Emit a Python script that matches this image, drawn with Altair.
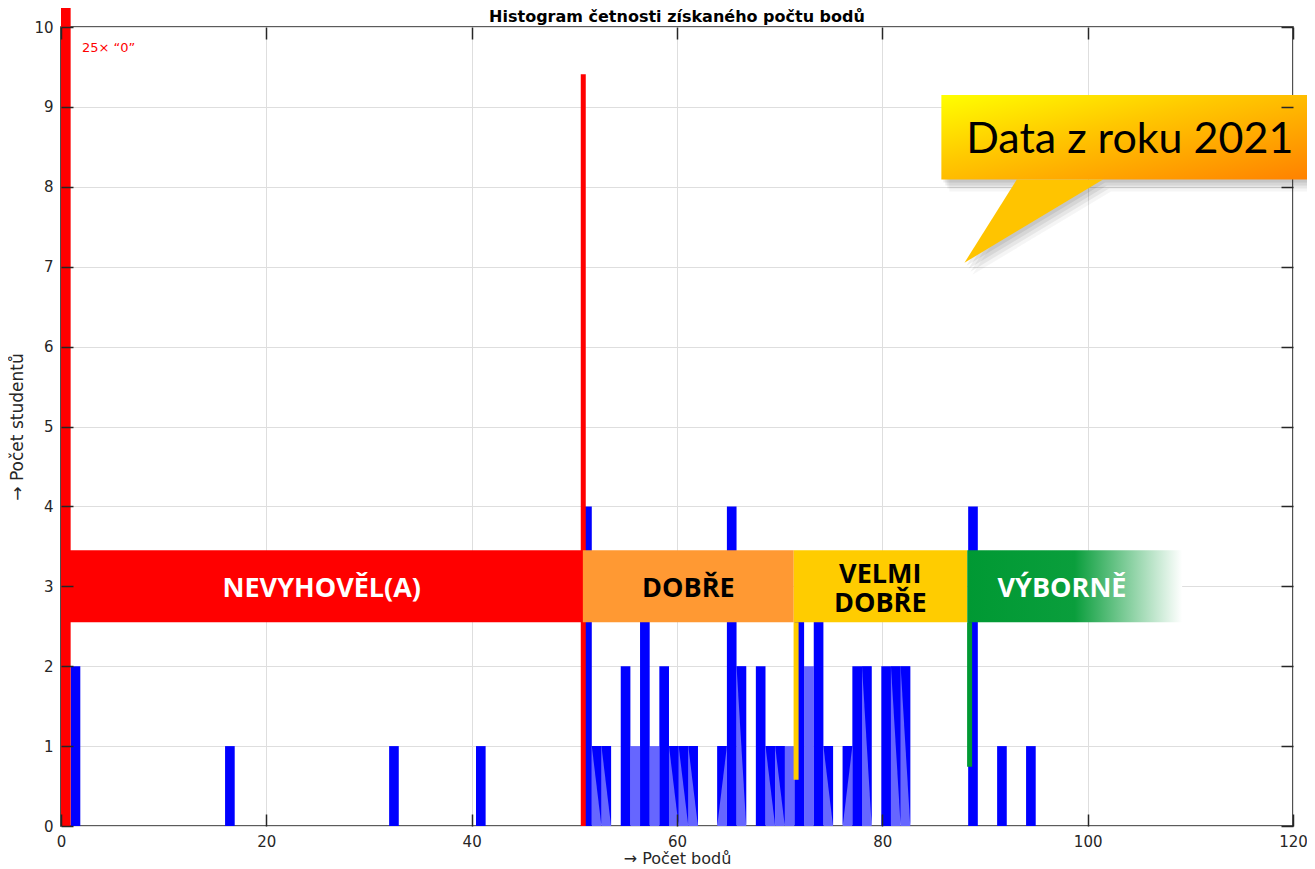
import altair as alt
import pandas as pd

# ---------------- data ----------------
bin_width = 0.94
bin_left = [0.94, 15.98, 31.96, 40.42, 50.76, 51.70, 52.64, 54.52, 55.46, 56.40,
            57.34, 58.28, 59.22, 60.16, 61.10, 63.92, 64.86, 65.80, 67.68, 68.62,
            69.56, 70.50, 71.44, 72.38, 73.32, 74.26, 76.14, 77.08, 78.02, 79.90,
            80.84, 81.78, 88.36, 91.18, 94.00]
bin_count = [2, 1, 1, 1, 4, 1, 1, 2, 1, 3,
             1, 2, 1, 1, 1, 1, 4, 2, 2, 1,
             1, 1, 3, 2, 3, 1, 1, 2, 2, 2,
             2, 2, 4, 1, 1]
bin_style = ["full", "full", "full", "full", "full", "tri_r", "tri_r", "full", "light", "full",
             "light", "full", "tri_r", "tri_r", "tri_r", "tri_l", "full", "tri_r", "full", "tri_r",
             "tri_r", "light", "full", "light", "full", "tri_r", "tri_l", "full", "tri_r", "full",
             "tri_r", "tri_r", "full", "full", "full"]

zero_left = [0.0]
zero_count = [25]
zero_note = ["25× “0”"]

band_names = ["NEVYHOVĚL(A)", "DOBŘE", "VELMI\nDOBŘE", "VÝBORNĚ"]
band_lines = [1, 1, 2, 1]
band_start = [0.0, 50.83, 71.37, 88.27]
band_end = [50.83, 71.37, 88.27, 109.2]
band_label_x = [25.4, 61.1, 79.8, 97.5]
band_colors = ["#FF0000", "#FF9933", "#FFCC00", "#009933"]
band_text_colors = ["#FFFFFF", "#000000", "#000000", "#FFFFFF"]
band_low = 2.55
band_high = 3.45
band_mid = 3.0

marker_x = [50.87, 71.6, 88.5]
marker_y0 = [0.0, 0.58, 0.74]
marker_y1 = [9.41, 2.55, 2.55]
marker_colors = ["#FF0000", "#FFCC00", "#009933"]

callout_text = ["Data z roku 2021"]
callout_box_x = [85.75, 122.1]
callout_box_y = [8.09, 9.15]
callout_tail_y = [7.05, 8.09]
callout_tail_xa = [88.0, 93.1]
callout_tail_xb = [88.0, 101.5]
callout_text_pos = [104.1, 8.42]

chart_title = ["Histogram četnosti získaného počtu bodů"]
x_title = "→ Počet bodů"
y_title = "→ Počet studentů"
x_ticks = [0, 20, 40, 60, 80, 100, 120]
y_ticks = [0, 1, 2, 3, 4, 5, 6, 7, 8, 9, 10]

# ---------------- tables ----------------
bars = pd.DataFrame({"left": bin_left, "count": bin_count, "style": bin_style})
bars["right"] = bars["left"] + bin_width

tri_rows = []
for i, (l, c, s) in enumerate(zip(bin_left, bin_count, bin_style)):
    if s == "tri_r":
        tri_rows += [dict(id=i, xx=l, ytop=c, ybot=c), dict(id=i, xx=l + bin_width, ytop=c, ybot=0)]
    elif s == "tri_l":
        tri_rows += [dict(id=i, xx=l, ytop=c, ybot=0), dict(id=i, xx=l + bin_width, ytop=c, ybot=c)]
tris = pd.DataFrame(tri_rows)

zero = pd.DataFrame({"left": zero_left, "count": zero_count, "note": zero_note})
zero["right"] = zero["left"] + bin_width

bands = pd.DataFrame({"name": band_names, "lines": band_lines, "x0": band_start, "x1": band_end,
                      "lx": band_label_x, "col": band_colors, "tcol": band_text_colors})
bands["y0"] = band_low
bands["y1"] = band_high
bands["ym"] = band_mid

markers = pd.DataFrame({"x": marker_x, "y0": marker_y0, "y1": marker_y1, "col": marker_colors})

box = pd.DataFrame({"x0": [callout_box_x[0]], "x1": [callout_box_x[1]],
                    "y0": [callout_box_y[0]], "y1": [callout_box_y[1]]})
tail = pd.DataFrame({"yy": callout_tail_y, "xa": callout_tail_xa, "xb": callout_tail_xb})
ctext = pd.DataFrame({"t": callout_text, "x": [callout_text_pos[0]], "y": [callout_text_pos[1]]})
ttext = pd.DataFrame({"t": chart_title})

W, H = 1232, 799
xs = alt.Scale(domain=[0, 120], nice=False, zero=False)
ys = alt.Scale(domain=[0, 10], nice=False, zero=False)
AX = "#262626"
FONT = "DejaVu Sans"


def X(f, **kw):
    return alt.X(f, type="quantitative", scale=xs, axis=None, **kw)


def Y(f, **kw):
    return alt.Y(f, type="quantitative", scale=ys, axis=None, **kw)


main_x_axis = alt.Axis(values=x_ticks, grid=True, gridColor="#DEDEDE", gridWidth=1,
                       ticks=False, domain=False, labelFont=FONT, labelFontSize=15,
                       labelColor=AX, labelPadding=8, labelFlush=False,
                       title=x_title, titleFont=FONT, titleFontSize=16,
                       titleFontWeight="normal", titleColor=AX, titlePadding=1)
main_y_axis = alt.Axis(values=y_ticks, grid=True, gridColor="#DEDEDE", gridWidth=1,
                       ticks=False, domain=False, labelFont=FONT, labelFontSize=15,
                       labelColor=AX, labelPadding=8, labelFlush=False,
                       title=y_title, titleFont=FONT, titleFontSize=17,
                       titleFontWeight="normal", titleColor=AX, titlePadding=7)

# light blue fill under triangle / light bins
light = alt.Chart(bars).transform_filter("datum.style != 'full'").mark_rect(color="#6666FF").encode(
    x=alt.X("left:Q", scale=xs, axis=main_x_axis), x2="right:Q",
    y=alt.Y("count:Q", scale=ys, axis=main_y_axis), y2=alt.datum(0))

dark = alt.Chart(bars).transform_filter("datum.style == 'full'").mark_rect(color="#0000FF").encode(
    x=X("left:Q"), x2="right:Q", y=Y("count:Q"), y2=alt.datum(0))

tri = alt.Chart(tris).mark_area(color="#0000FF", orient="vertical").encode(
    x=X("xx:Q"), y=Y("ytop:Q"), y2="ybot:Q", detail="id:N")

zero_bar = alt.Chart(zero).mark_rect(color="#FF0000", clip=False).encode(
    x=X("left:Q"), x2="right:Q", y=Y("count:Q"), y2=alt.datum(0))

zero_lbl = alt.Chart(zero).mark_text(color="#FF0000", font=FONT, fontSize=13, align="left",
                                     baseline="middle", dx=21).encode(
    x=X("left:Q"), y=alt.Y(datum=9.74, scale=ys, axis=None), text="note:N")

rules = alt.Chart(markers).mark_rule(strokeWidth=5, strokeCap="butt").encode(
    x=X("x:Q"), y=Y("y0:Q"), y2="y1:Q", color=alt.Color("col:N", scale=None))

band_rect = alt.Chart(bands).transform_filter("datum.name != 'VÝBORNĚ'").mark_rect().encode(
    x=X("x0:Q"), x2="x1:Q", y=Y("y0:Q"), y2="y1:Q", color=alt.Color("col:N", scale=None))

green_grad = alt.Gradient(gradient="linear", x1=0, y1=0, x2=1, y2=0,
                          stops=[alt.GradientStop(offset=0, color="#009933"),
                                 alt.GradientStop(offset=0.5, color="#0A9E3C"),
                                 alt.GradientStop(offset=1, color="#FFFFFF")])
band_green = alt.Chart(bands).transform_filter("datum.name == 'VÝBORNĚ'").mark_rect(fill=green_grad).encode(
    x=X("x0:Q"), x2="x1:Q", y=Y("y0:Q"), y2="y1:Q")

band_text1 = alt.Chart(bands).transform_filter("datum.lines == 1").mark_text(
    font="Open Sans", fontWeight="bold", fontSize=27, baseline="middle", align="center", dy=3).encode(
    x=X("lx:Q"), y=Y("ym:Q"), text="name:N", color=alt.Color("tcol:N", scale=None))
band_text2 = alt.Chart(bands).transform_filter("datum.lines == 2").mark_text(
    font="Open Sans", fontWeight="bold", fontSize=27, baseline="middle", align="center",
    lineBreak="\n", lineHeight=29, dy=-11).encode(
    x=X("lx:Q"), y=Y("ym:Q"), text="name:N", color=alt.Color("tcol:N", scale=None))

shadow_layers = []
for dx_, dy_, op in [(2, 3, 0.07), (4, 6, 0.07), (6, 9, 0.06), (8, 12, 0.04)]:
    shadow_layers.append(
        alt.Chart(box).mark_rect(fill="#000000", opacity=op, clip=False,
                                 xOffset=dx_, x2Offset=dx_, yOffset=dy_, y2Offset=dy_).encode(
            x=X("x0:Q"), x2="x1:Q", y=Y("y0:Q"), y2="y1:Q"))
    shadow_layers.append(
        alt.Chart(tail).mark_area(orient="horizontal", color="#000000", opacity=op,
                                  xOffset=dx_, x2Offset=dx_, yOffset=dy_).encode(
            y=Y("yy:Q"), x=X("xa:Q"), x2="xb:Q"))

box_grad = alt.Gradient(gradient="linear", x1=0, y1=0, x2=1, y2=1,
                        stops=[alt.GradientStop(offset=0, color="#FFFF00"),
                               alt.GradientStop(offset=0.4, color="#FFC800"),
                               alt.GradientStop(offset=1, color="#FF8000")])
box_rect = alt.Chart(box).mark_rect(fill=box_grad, clip=False).encode(
    x=X("x0:Q"), x2="x1:Q", y=Y("y0:Q"), y2="y1:Q")

tail_area = alt.Chart(tail).mark_area(orient="horizontal", color="#FFC400").encode(
    y=Y("yy:Q"), x=X("xa:Q"), x2="xb:Q")

callout = alt.Chart(ctext).mark_text(font="Lato", fontSize=43, color="#000000",
                                     align="center", baseline="alphabetic", clip=False).encode(
    x=X("x:Q"), y=Y("y:Q"), text="t:N")

title = alt.Chart(ttext).mark_text(font=FONT, fontSize=16, fontWeight="bold", color="#000000",
                                   align="center", baseline="middle", dy=-10).encode(
    x=alt.X(datum=60, scale=xs, axis=None), y=alt.Y(datum=10, scale=ys, axis=None), text="t:N")

# inward ticks (Matlab-like box)
dummy = pd.DataFrame({"v": [0]})


def tick_axis(vals, orient, off):
    return alt.Axis(values=vals, orient=orient, offset=off, labels=False, domain=False, grid=False,
                    ticks=True, tickSize=12, tickWidth=1.5, tickColor=AX, title=None, zindex=2)


tk_bottom = alt.Chart(dummy).mark_point(opacity=0).encode(
    x=alt.X("v:Q", scale=xs, axis=tick_axis(x_ticks, "top", -H)), y=Y("v:Q"))
tk_top = alt.Chart(dummy).mark_point(opacity=0).encode(
    x=alt.X("v:Q", scale=xs, axis=tick_axis(x_ticks, "bottom", -H)), y=Y("v:Q"))
tk_left = alt.Chart(dummy).mark_point(opacity=0).encode(
    y=alt.Y("v:Q", scale=ys, axis=tick_axis(y_ticks, "right", -W)), x=X("v:Q"))
tk_right = alt.Chart(dummy).mark_point(opacity=0).encode(
    y=alt.Y("v:Q", scale=ys, axis=tick_axis(y_ticks, "left", -W)), x=X("v:Q"))

chart = alt.layer(
    light, dark, tri, zero_bar, rules, band_rect, band_green, band_text1, band_text2, zero_lbl,
    *shadow_layers, box_rect, tail_area, callout, title,
    tk_bottom, tk_top, tk_left, tk_right
).resolve_axis(x="independent", y="independent").properties(
    width=W, height=H,
    autosize=alt.AutoSizeParams(type="none"),
    padding={"left": 53, "top": 19, "right": 14, "bottom": 48},
    background="#FFFFFF"
).configure_view(stroke=AX, strokeWidth=1.6)

chart.save("out.html", embed_options={"renderer": "svg", "actions": False})
